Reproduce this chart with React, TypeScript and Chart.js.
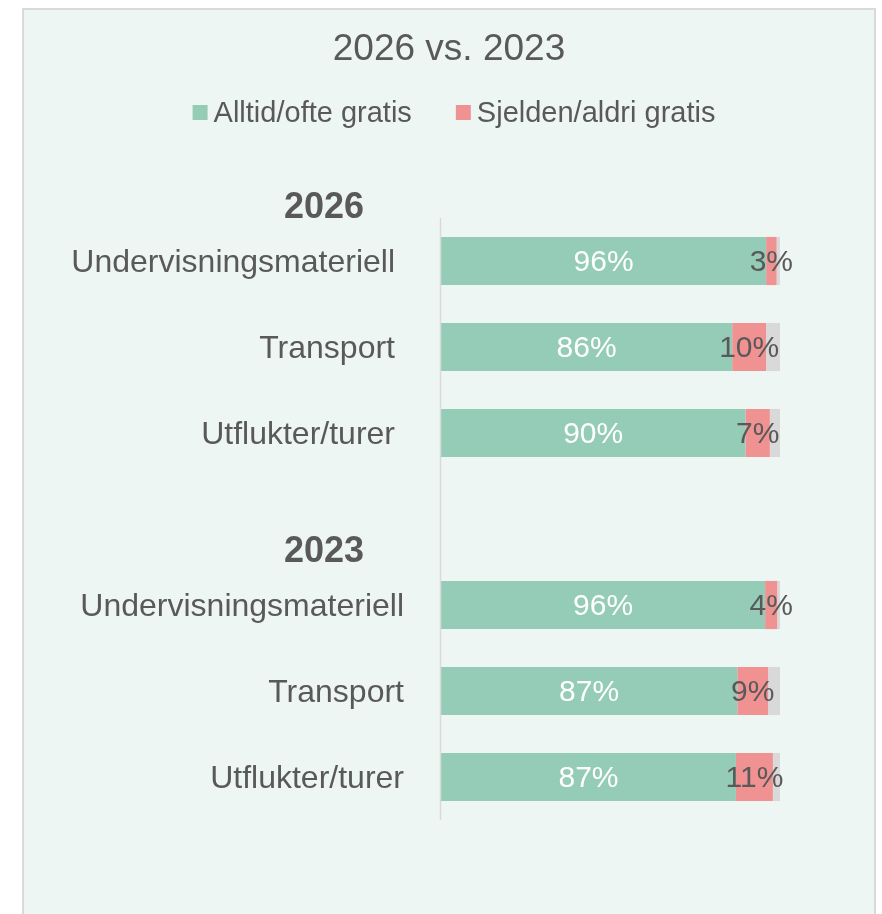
import React, { useEffect, useRef } from "react";
import { Chart, registerables } from "chart.js";

Chart.register(...registerables);

// ---------- data ----------
const chartTitle = "2026 vs. 2023";
const categories = [
  "Undervisningsmateriell",
  "Transport",
  "Utflukter/turer",
  "",
  "Undervisningsmateriell",
  "Transport",
  "Utflukter/turer",
];
const groupTitles = ["2026", "2023"];
const groupStarts = [0, 4];
const seriesNames = ["Alltid/ofte gratis", "Sjelden/aldri gratis", "Vet ikke"];
const alltidOfte = [95.9, 85.9, 89.8, null, 95.6, 87.4, 87.0];
const sjeldenAldri = [3.1, 10.0, 7.2, null, 3.6, 9.1, 10.9];
const vetIkke = [1.0, 4.1, 3.0, null, 0.8, 3.5, 2.1];

// ---------- style ----------
const FONT = '"Liberation Sans", Arial, Helvetica, sans-serif';
const TEXT = "#595959";
const GREEN = "#95CCB7";
const RED = "#F09292";
const GREY = "#D9D9D9";
const BG = "#EEF6F3";

const decorPlugin = {
  id: "decor",
  afterDraw(chart: any) {
    const { ctx, chartArea: a } = chart;
    const yScale = chart.scales.y;
    ctx.save();

    // title
    ctx.fillStyle = TEXT;
    ctx.font = `37px ${FONT}`;
    ctx.textAlign = "center";
    ctx.textBaseline = "alphabetic";
    ctx.fillText(chartTitle, 449, 60);

    // legend (first two series)
    ctx.font = `29px ${FONT}`;
    const legendColors = [GREEN, RED];
    const legendNames = seriesNames.slice(0, 2);
    const box = 15;
    const gap = 6;
    const itemGap = 44;
    const widths = legendNames.map((n) => ctx.measureText(n).width);
    const total =
      widths.reduce((s, w) => s + w, 0) + legendNames.length * (box + gap) + itemGap * (legendNames.length - 1);
    let lx = 454 - total / 2;
    ctx.textAlign = "left";
    legendNames.forEach((n, i) => {
      ctx.fillStyle = legendColors[i];
      ctx.fillRect(lx, 105, box, box);
      ctx.fillStyle = TEXT;
      ctx.fillText(n, lx + box + gap, 121.5);
      lx += box + gap + widths[i] + itemGap;
    });

    // axis line
    ctx.strokeStyle = "#D9D9D9";
    ctx.lineWidth = 1.5;
    ctx.beginPath();
    ctx.moveTo(a.left - 0.5, a.top);
    ctx.lineTo(a.left - 0.5, a.bottom);
    ctx.stroke();

    // category labels
    ctx.fillStyle = TEXT;
    ctx.font = `32px ${FONT}`;
    ctx.textAlign = "right";
    ctx.textBaseline = "middle";
    categories.forEach((c, i) => {
      if (!c) return;
      const g = i >= groupStarts[1] ? 1 : 0;
      const xr = a.left - (g === 0 ? 46 : 37);
      ctx.fillText(c, xr, yScale.getPixelForValue(i) + 2);
    });

    // group headers
    ctx.font = `bold 36px ${FONT}`;
    ctx.textAlign = "center";
    ctx.textBaseline = "alphabetic";
    groupTitles.forEach((t, k) => {
      ctx.fillText(t, a.left - 117, yScale.getPixelForValue(groupStarts[k]) - 43.5);
    });

    // data labels
    ctx.font = `30px ${FONT}`;
    ctx.textAlign = "center";
    ctx.textBaseline = "middle";
    const labelColors = ["#FFFFFF", TEXT];
    [0, 1].forEach((di) => {
      const meta = chart.getDatasetMeta(di);
      const data = chart.data.datasets[di].data;
      meta.data.forEach((bar: any, i: number) => {
        const v = data[i];
        if (v == null) return;
        ctx.fillStyle = labelColors[di];
        ctx.fillText(`${Math.round(v)}%`, (bar.x + bar.base) / 2, bar.y + 2);
      });
    });

    ctx.restore();
  },
};

export default function App() {
  const ref = useRef<HTMLCanvasElement | null>(null);

  useEffect(() => {
    if (!ref.current) return;
    const chart = new Chart(ref.current, {
      type: "bar",
      data: {
        labels: categories,
        datasets: [
          { label: seriesNames[0], data: alltidOfte as any, backgroundColor: GREEN },
          { label: seriesNames[1], data: sjeldenAldri as any, backgroundColor: RED },
          { label: seriesNames[2], data: vetIkke as any, backgroundColor: GREY },
        ],
      },
      options: {
        indexAxis: "y",
        responsive: false,
        animation: false,
        layout: { padding: { left: 441, right: 102, top: 218, bottom: 94 } },
        datasets: { bar: { barPercentage: 0.56, categoryPercentage: 1, borderWidth: 0 } },
        scales: {
          x: { stacked: true, min: 0, max: 100, display: false },
          y: { stacked: true, display: false },
        },
        plugins: {
          legend: { display: false },
          title: { display: false },
          tooltip: { enabled: false },
        },
      },
      plugins: [decorPlugin],
    });
    return () => chart.destroy();
  }, []);

  return (
    <>
      <div
        style={{
          position: "fixed",
          left: 22,
          top: 8,
          width: 854,
          height: 930,
          boxSizing: "border-box",
          background: BG,
          borderLeft: "2px solid #DADADA",
          borderTop: "2px solid #DADADA",
          borderRight: "2px solid #DADADA",
        }}
      />
      <canvas
        ref={ref}
        width={882}
        height={914}
        style={{ position: "fixed", left: 0, top: 0, width: 882, height: 914 }}
      />
    </>
  );
}
